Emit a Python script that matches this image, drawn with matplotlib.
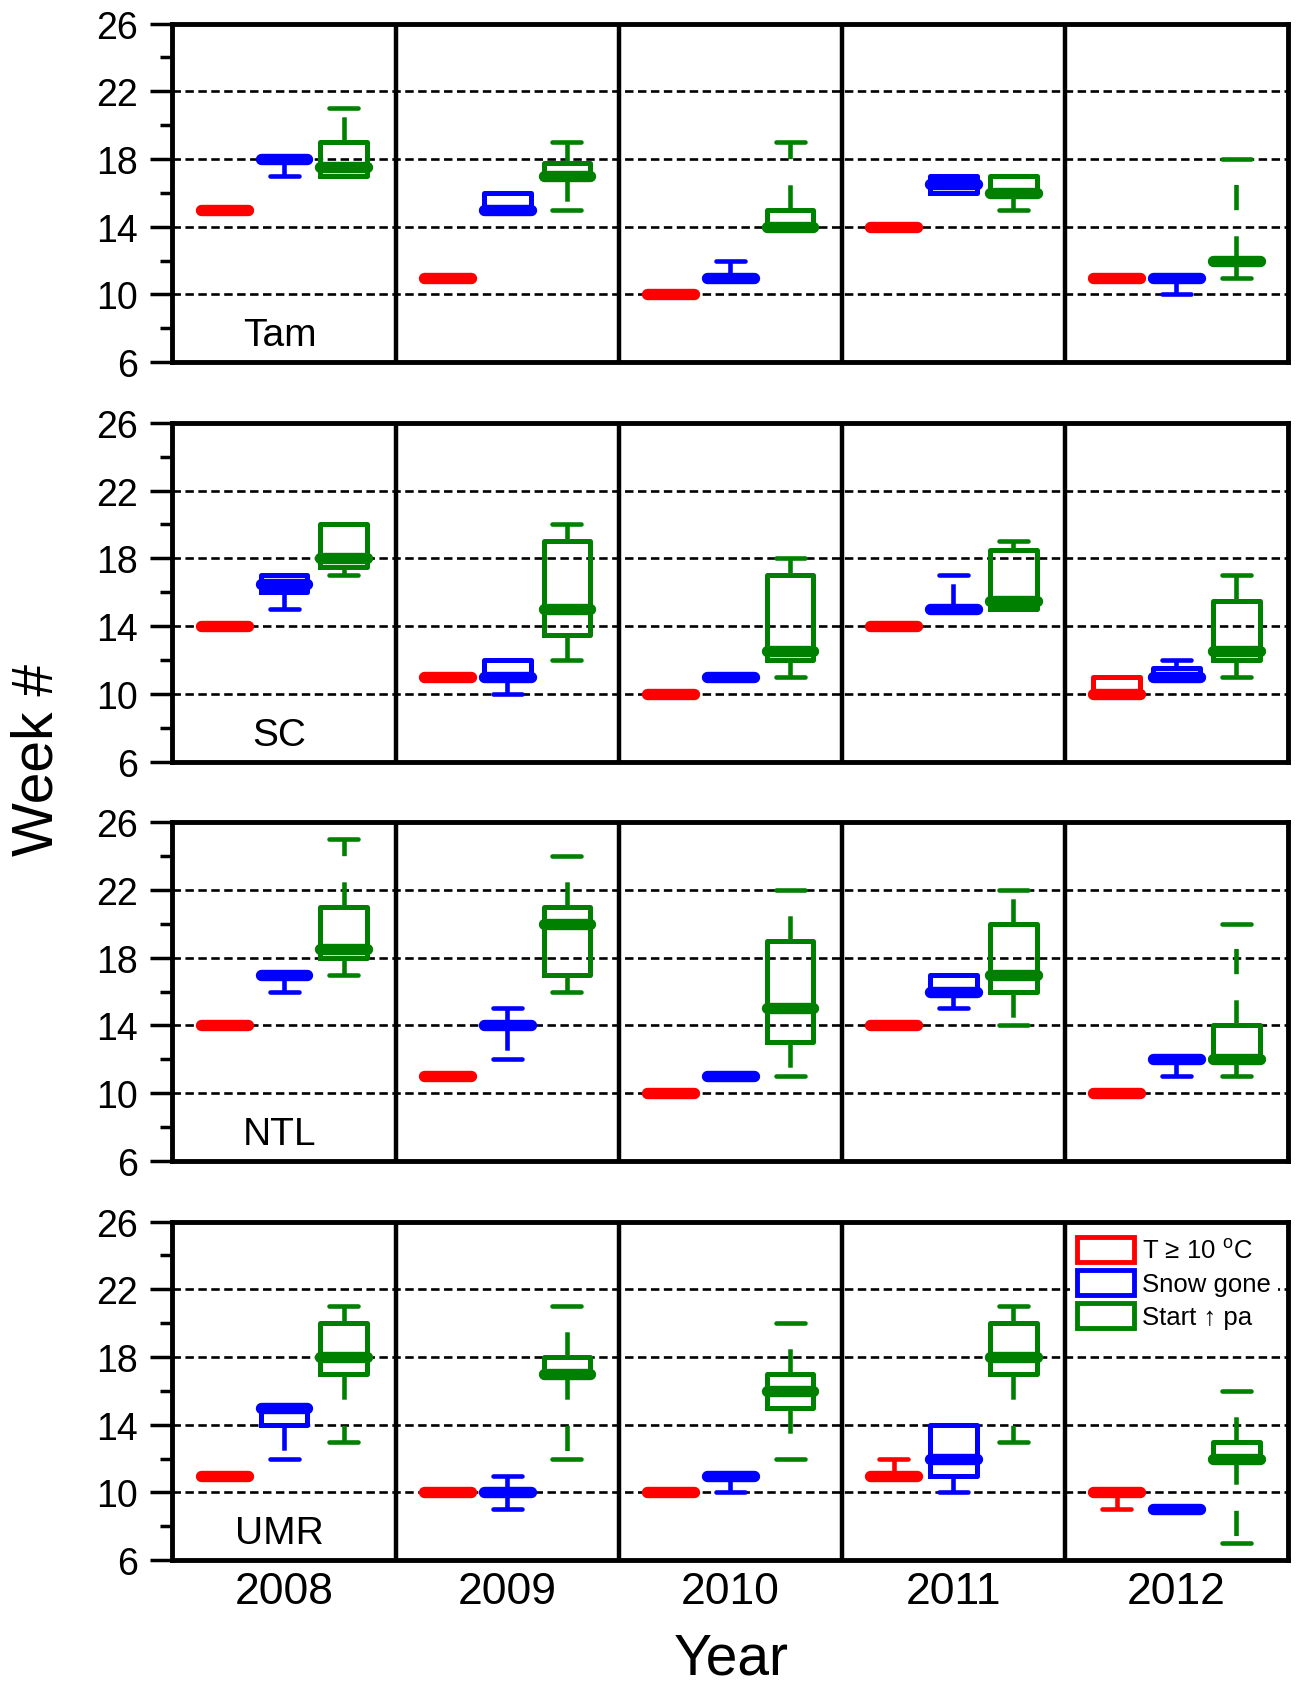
import matplotlib
matplotlib.use('Agg')
import matplotlib.pyplot as plt
from matplotlib.patches import Patch
from matplotlib.ticker import MultipleLocator

plt.rcParams['font.family'] = ['Liberation Sans', 'DejaVu Sans']
plt.rcParams['mathtext.fontset'] = 'custom'
plt.rcParams['mathtext.rm'] = 'Liberation Sans'

years = ['2008', '2009', '2010', '2011', '2012']
sites = ['Tam', 'SC', 'NTL', 'UMR']
series_labels = ['T \u2265 10 $^\\mathregular{o}$C', 'Snow gone', 'Start \u2191 pa']
series_colors = ['#FF0000', '#0000FF', '#008000']

# each entry per year: (whislo, q1, median, q3, whishi)  -- week number
tam_temp = [(15, 15, 15, 15, 15), (11, 11, 11, 11, 11), (10, 10, 10, 10, 10), (14, 14, 14, 14, 14), (11, 11, 11, 11, 11)]
tam_snow = [(17, 18, 18, 18, 18), (15, 15, 15, 16, 16), (11, 11, 11, 11, 12), (16, 16, 16.5, 17, 17), (10, 11, 11, 11, 11)]
tam_start = [(17, 17, 17.5, 19, 21), (15, 17, 17, 17.75, 19), (14, 14, 14, 15, 19), (15, 16, 16, 17, 17), (11, 12, 12, 12, 18)]

sc_temp = [(14, 14, 14, 14, 14), (11, 11, 11, 11, 11), (10, 10, 10, 10, 10), (14, 14, 14, 14, 14), (10, 10, 10, 11, 11)]
sc_snow = [(15, 16, 16.5, 17, 17), (10, 11, 11, 12, 12), (11, 11, 11, 11, 11), (15, 15, 15, 15, 17), (11, 11, 11, 11.5, 12)]
sc_start = [(17, 17.5, 18, 20, 20), (12, 13.5, 15, 19, 20), (11, 12, 12.5, 17, 18), (15, 15, 15.5, 18.5, 19), (11, 12, 12.5, 15.5, 17)]

ntl_temp = [(14, 14, 14, 14, 14), (11, 11, 11, 11, 11), (10, 10, 10, 10, 10), (14, 14, 14, 14, 14), (10, 10, 10, 10, 10)]
ntl_snow = [(16, 17, 17, 17, 17), (12, 14, 14, 14, 15), (11, 11, 11, 11, 11), (15, 16, 16, 17, 17), (11, 12, 12, 12, 12)]
ntl_start = [(17, 18, 18.5, 21, 25), (16, 17, 20, 21, 24), (11, 13, 15, 19, 22), (14, 16, 17, 20, 22), (11, 12, 12, 14, 20)]

umr_temp = [(11, 11, 11, 11, 11), (10, 10, 10, 10, 10), (10, 10, 10, 10, 10), (11, 11, 11, 11, 12), (9, 10, 10, 10, 10)]
umr_snow = [(12, 14, 15, 15, 15), (9, 10, 10, 10, 11), (10, 11, 11, 11, 11), (10, 11, 12, 14, 14), (9, 9, 9, 9, 9)]
umr_start = [(13, 17, 18, 20, 21), (12, 17, 17, 18, 21), (12, 15, 16, 17, 20), (13, 17, 18, 20, 21), (7, 12, 12, 13, 16)]

site_data = [
    [tam_temp, tam_snow, tam_start],
    [sc_temp, sc_snow, sc_start],
    [ntl_temp, ntl_snow, ntl_start],
    [umr_temp, umr_snow, umr_start],
]

offsets = [0.232, 0.5, 0.768]


def to_stats(rows):
    return [dict(whislo=a, q1=b, med=c, q3=d, whishi=e, fliers=[]) for (a, b, c, d, e) in rows]


fig = plt.figure(figsize=(12.96, 16.90), dpi=100)
left, width, height = 0.1331, 0.8607, 0.2004
bottoms = [0.7851, 0.5488, 0.3125, 0.0762]

for r, (site, series) in enumerate(zip(sites, site_data)):
    ax = fig.add_axes([left, bottoms[r], width, height])
    ax.set_xlim(0, 5)
    ax.set_ylim(6, 26)
    ax.set_axisbelow(True)
    ax.yaxis.grid(True, which='major', color='black', linewidth=1.9, linestyle=(0, (3.2, 1.7)))
    for xv in range(1, 5):
        ax.axvline(xv, color='black', linewidth=3.2, zorder=2.5)
    for k, (data, color) in enumerate(zip(series, series_colors)):
        pos = [i + offsets[k] for i in range(len(years))]
        ax.bxp(to_stats(data), positions=pos, widths=0.21, capwidths=0.13,
               showfliers=False, manage_ticks=False, zorder=3,
               boxprops=dict(color=color, linewidth=3.6),
               medianprops=dict(color=color, linewidth=8.2, solid_capstyle='round'),
               whiskerprops=dict(color=color, linewidth=3.3, linestyle=(0, (5.5, 5.7))),
               capprops=dict(color=color, linewidth=3.3, solid_capstyle='round'))
    ax.set_yticks([6, 10, 14, 18, 22, 26])
    ax.yaxis.set_minor_locator(MultipleLocator(2))
    ax.tick_params(axis='y', which='major', length=16, width=2.5, direction='out',
                   labelsize=27, pad=9, colors='black')
    ax.tick_params(axis='y', which='minor', length=8.6, width=2.5, direction='out')
    ax.set_xticks([i + 0.5 for i in range(len(years))])
    if r == len(sites) - 1:
        ax.set_xticklabels(years)
        ax.tick_params(axis='x', length=0, labelsize=32, pad=8)
    else:
        ax.tick_params(axis='x', length=0, labelbottom=False)
    for sp in ax.spines.values():
        sp.set_linewidth(3.5)
        sp.set_zorder(4)
    ax.text(0.48, 7.0, site, ha='center', va='baseline', fontsize=28)

    if r == len(sites) - 1:
        handles = [Patch(facecolor='white', edgecolor=c, linewidth=3.5) for c in series_colors]
        leg = ax.legend(handles, series_labels, loc='upper left',
                        bbox_to_anchor=(4.022, 25.55), bbox_transform=ax.transData,
                        borderaxespad=0, borderpad=0.3, fontsize=18.5,
                        handlelength=2.2, handleheight=1.1, handletextpad=0.3,
                        labelspacing=0.28, frameon=True, fancybox=False,
                        framealpha=1, facecolor='white', edgecolor='none')
        leg.set_zorder(5)

fig.text(0.029, 1 - 760 / 1690, 'Week #', rotation=90, ha='center', va='center', fontsize=41)
fig.text(0.564, 0.009, 'Year', ha='center', va='baseline', fontsize=41)

fig.savefig('out.png', dpi=100)
